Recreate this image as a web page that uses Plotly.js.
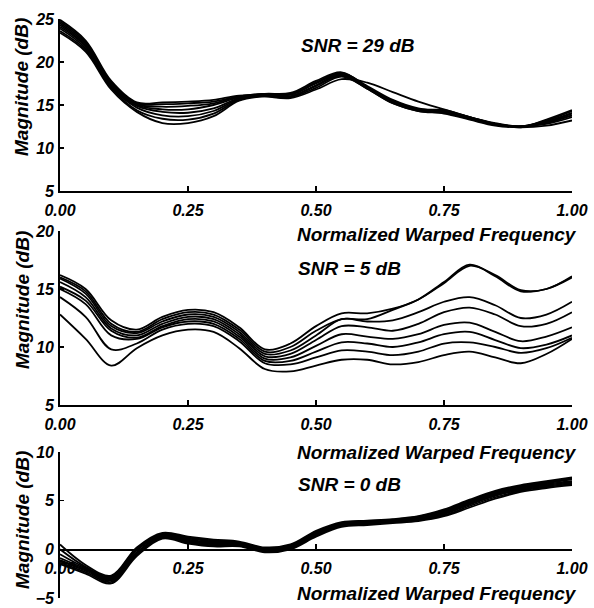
<!DOCTYPE html>
<html>
<head>
<meta charset="utf-8">
<script src="https://cdn.plot.ly/plotly-3.0.1.min.js"></script>
<style>html,body{margin:0;padding:0;background:#fff;}#chart{width:594px;height:608px;}</style>
</head>
<body>
<div id="chart"></div>
<script>
// Normalized warped frequency grid
const freq = [0, 0.05, 0.1, 0.15, 0.2, 0.25, 0.3, 0.35, 0.4, 0.45, 0.5, 0.55, 0.6, 0.65, 0.7, 0.75, 0.8, 0.85, 0.9, 0.95, 1.0];

// SNR = 29 dB
const snr29_1 = [24.9, 22.5, 17.8, 15.3, 15.3, 15.4, 15.6, 16.1, 16.0, 15.8, 16.8, 18.0, 17.6, 16.5, 15.4, 14.5, 13.6, 12.9, 12.5, 13.0, 13.8];
const snr29_2 = [24.7, 22.3, 17.6, 15.2, 15.1, 15.2, 15.4, 16.0, 16.3, 16.3, 17.6, 18.7, 17.2, 15.6, 14.6, 14.3, 13.6, 12.8, 12.5, 13.2, 14.3];
const snr29_3 = [24.5, 22.1, 17.5, 15.1, 14.8, 14.9, 15.2, 16.0, 16.3, 16.4, 17.8, 18.8, 17.1, 15.4, 14.5, 14.4, 13.6, 12.8, 12.4, 13.3, 14.4];
const snr29_4 = [24.3, 21.9, 17.3, 15.0, 14.5, 14.5, 15.0, 15.9, 16.2, 16.2, 17.6, 18.7, 17.1, 15.5, 14.5, 14.3, 13.5, 12.8, 12.5, 13.1, 14.1];
const snr29_5 = [24.1, 21.8, 17.2, 14.9, 14.2, 14.1, 14.6, 15.8, 16.2, 16.2, 17.5, 18.6, 17.0, 15.4, 14.4, 14.2, 13.5, 12.8, 12.5, 13.0, 14.0];
const snr29_6 = [23.9, 21.6, 17.1, 14.7, 13.8, 13.7, 14.3, 15.7, 16.1, 16.0, 17.3, 18.5, 17.0, 15.3, 14.4, 14.2, 13.4, 12.7, 12.5, 12.9, 13.8];
const snr29_7 = [23.6, 21.4, 17.0, 14.4, 13.4, 13.3, 14.0, 15.6, 16.1, 16.0, 17.2, 18.4, 16.9, 15.2, 14.3, 14.1, 13.4, 12.7, 12.5, 12.8, 13.6];
const snr29_8 = [23.4, 21.2, 16.8, 14.2, 12.9, 12.9, 13.7, 15.5, 16.0, 15.9, 17.0, 18.3, 16.9, 15.2, 14.3, 14.0, 13.3, 12.6, 12.4, 12.6, 13.2];

// SNR = 5 dB
const snr5_1 = [16.2, 15.0, 12.3, 11.5, 12.6, 13.2, 13.0, 11.7, 9.8, 10.3, 11.8, 12.9, 12.9, 13.3, 14.1, 15.5, 17.0, 16.2, 14.9, 15.0, 16.1];
const snr5_2 = [16.0, 14.8, 12.0, 11.3, 12.4, 13.0, 12.8, 11.5, 9.6, 10.0, 11.4, 12.4, 12.4, 13.2, 14.1, 15.6, 17.1, 16.1, 14.8, 15.0, 16.0];
const snr5_3 = [15.9, 14.6, 11.8, 11.2, 12.2, 12.8, 12.6, 11.3, 9.4, 9.7, 11.0, 12.4, 12.2, 12.3, 13.0, 13.9, 14.3, 13.6, 12.5, 12.8, 13.9];
const snr5_4 = [15.6, 14.3, 11.6, 11.0, 12.0, 12.6, 12.4, 11.1, 9.2, 9.4, 10.6, 11.8, 11.7, 11.4, 12.0, 13.0, 13.4, 12.8, 11.8, 12.0, 13.0];
const snr5_5 = [15.2, 14.0, 11.4, 10.8, 11.8, 12.4, 12.2, 10.9, 9.0, 9.1, 10.1, 11.1, 10.9, 10.7, 11.1, 11.9, 12.1, 11.3, 10.5, 10.9, 11.7];
const snr5_6 = [15.0, 13.7, 11.0, 10.7, 11.7, 12.2, 12.0, 10.7, 8.8, 8.8, 9.6, 10.4, 10.3, 10.0, 10.4, 11.1, 11.3, 10.6, 9.9, 10.2, 11.0];
const snr5_7 = [14.3, 12.6, 9.8, 10.3, 11.5, 12.0, 11.8, 10.5, 8.6, 8.5, 9.1, 9.7, 9.6, 9.3, 9.6, 10.3, 10.4, 10.0, 9.5, 9.9, 10.8];
const snr5_8 = [12.8, 10.7, 8.4, 9.9, 11.0, 11.5, 11.3, 9.9, 8.1, 7.9, 8.4, 8.9, 8.9, 8.5, 8.7, 9.3, 9.6, 9.1, 8.6, 9.4, 10.7];

// SNR = 0 dB
const snr0_1 = [0.5, -1.6, -2.7, 0.2, 1.7, 1.3, 1.0, 0.8, 0.2, 0.5, 1.9, 2.8, 2.95, 3.1, 3.4, 4.1, 5.1, 6.0, 6.6, 7.0, 7.4];
const snr0_2 = [0.0, -1.8, -2.8, 0.1, 1.6, 1.2, 0.9, 0.7, 0.1, 0.4, 1.8, 2.7, 2.9, 3.05, 3.35, 4.0, 5.0, 5.9, 6.5, 6.9, 7.3];
const snr0_3 = [-0.5, -1.9, -2.9, 0.0, 1.5, 1.1, 0.8, 0.6, 0.05, 0.35, 1.7, 2.65, 2.85, 3.0, 3.3, 3.9, 4.9, 5.8, 6.4, 6.8, 7.2];
const snr0_4 = [-0.9, -2.0, -3.0, -0.1, 1.45, 1.0, 0.7, 0.55, 0.0, 0.3, 1.6, 2.6, 2.8, 2.95, 3.2, 3.8, 4.8, 5.7, 6.3, 6.7, 7.0];
const snr0_5 = [-1.1, -2.1, -3.1, -0.3, 1.4, 0.9, 0.6, 0.5, -0.05, 0.25, 1.55, 2.5, 2.75, 2.9, 3.1, 3.7, 4.7, 5.6, 6.2, 6.6, 6.9];
const snr0_6 = [-1.2, -2.2, -3.2, -0.4, 1.3, 0.8, 0.5, 0.45, -0.1, 0.2, 1.5, 2.45, 2.65, 2.85, 3.05, 3.6, 4.6, 5.5, 6.1, 6.5, 6.8];
const snr0_7 = [-1.35, -2.35, -3.35, -0.55, 1.2, 0.7, 0.4, 0.35, -0.2, 0.1, 1.4, 2.4, 2.6, 2.8, 3.0, 3.5, 4.45, 5.35, 6.0, 6.4, 6.7];
const snr0_8 = [-1.5, -2.5, -3.5, -0.7, 1.1, 0.6, 0.3, 0.3, -0.3, 0.0, 1.3, 2.3, 2.5, 2.7, 2.9, 3.4, 4.3, 5.2, 5.9, 6.3, 6.6];

const set29 = [snr29_1, snr29_2, snr29_3, snr29_4, snr29_5, snr29_6, snr29_7, snr29_8];
const set5 = [snr5_1, snr5_2, snr5_3, snr5_4, snr5_5, snr5_6, snr5_7, snr5_8];
const set0 = [snr0_1, snr0_2, snr0_3, snr0_4, snr0_5, snr0_6, snr0_7, snr0_8];

const xTicks = [0, 0.25, 0.5, 0.75, 1.0];
const xTickText = ['0.00', '0.25', '0.50', '0.75', '1.00'];

const FONT = 'Liberation Sans, Arial, Helvetica, sans-serif';
const tickFont = {family: FONT, size: 16, color: '#000', weight: 'bold', style: 'italic'};
const lbl = {family: FONT, size: 19, color: '#000', weight: 'bold', style: 'italic'};

const traces = [];
function addSet(set, xa, ya) {
  set.forEach(ys => traces.push({
    x: freq, y: ys, xaxis: xa, yaxis: ya, type: 'scatter', mode: 'lines',
    line: {color: '#000', width: 1.8, shape: 'spline', smoothing: 1.0},
    hoverinfo: 'skip', showlegend: false
  }));
}
addSet(set29, 'x', 'y');
addSet(set5, 'x2', 'y2');
addSet(set0, 'x3', 'y3');

function xax(extra) {
  return Object.assign({
    range: [0, 1], tickvals: xTicks, ticktext: xTickText, ticks: 'inside', ticklen: 5,
    tickwidth: 1.3, tickcolor: '#000', showline: true, linecolor: '#000', linewidth: 1.8,
    showgrid: false, zeroline: false, tickfont: tickFont, fixedrange: true, ticklabelstandoff: 4
  }, extra);
}
function yax(extra) {
  return Object.assign({
    ticks: 'inside', ticklen: 4, tickwidth: 1.3, tickcolor: '#000', showline: true,
    linecolor: '#000', linewidth: 1.8, showgrid: false, zeroline: false, tickfont: tickFont,
    fixedrange: true, ticklabelstandoff: 1
  }, extra);
}

const H = 608;
const py = p => 1 - p / H;
const px = p => (p - 60) / 512;

const layout = {
  width: 594, height: 608,
  margin: {l: 60, r: 22, t: 0, b: 0},
  paper_bgcolor: '#fff', plot_bgcolor: '#fff',
  showlegend: false,
  xaxis: xax({anchor: 'y', domain: [0, 1]}),
  yaxis: yax({anchor: 'x', domain: [py(191), py(19)], range: [5, 25], tickvals: [5, 10, 15, 20, 25]}),
  xaxis2: xax({anchor: 'y2', domain: [0, 1]}),
  yaxis2: yax({anchor: 'x2', domain: [py(405), py(231)], range: [5, 20], tickvals: [5, 10, 15, 20]}),
  xaxis3: xax({anchor: 'free', position: py(549), domain: [0, 1]}),
  yaxis3: yax({anchor: 'x3', domain: [py(598), py(452)], range: [-5, 10], tickvals: [-5, 0, 5, 10]}),
  annotations: [
    {text: 'SNR = 29 dB', x: px(299), y: py(45), xanchor: 'left', yanchor: 'middle'},
    {text: 'SNR = 5 dB', x: px(296), y: py(268), xanchor: 'left', yanchor: 'middle'},
    {text: 'SNR = 0 dB', x: px(296), y: py(484), xanchor: 'left', yanchor: 'middle'},
    {text: 'Normalized Warped Frequency', x: px(437), y: py(234), xanchor: 'center', yanchor: 'middle'},
    {text: 'Normalized Warped Frequency', x: px(437), y: py(452), xanchor: 'center', yanchor: 'middle'},
    {text: 'Normalized Warped Frequency', x: px(437), y: py(593), xanchor: 'center', yanchor: 'middle'},
    {text: 'Magnitude (dB)', x: px(22), y: py(87), textangle: -90, xanchor: 'center', yanchor: 'middle'},
    {text: 'Magnitude (dB)', x: px(22), y: py(300), textangle: -90, xanchor: 'center', yanchor: 'middle'},
    {text: 'Magnitude (dB)', x: px(22), y: py(520), textangle: -90, xanchor: 'center', yanchor: 'middle'}
  ].map(a => Object.assign({xref: 'paper', yref: 'paper', showarrow: false, font: lbl}, a))
};

Plotly.newPlot('chart', traces, layout, {staticPlot: true, displayModeBar: false});
</script>
</body>
</html>
